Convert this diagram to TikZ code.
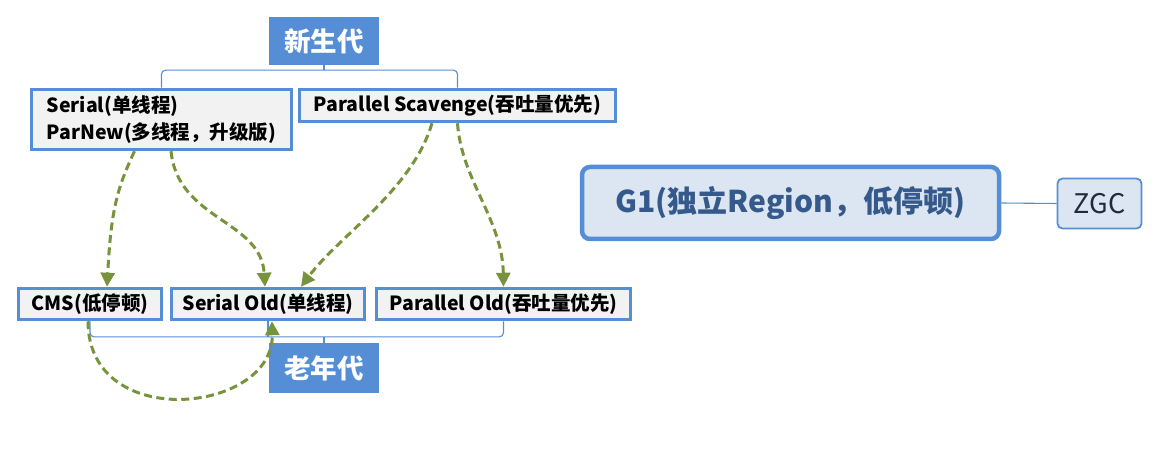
\documentclass[tikz,border=0pt]{standalone}
\usepackage{fontspec}
\setmainfont{Noto Sans CJK SC}
\usetikzlibrary{arrows.meta,calc}
\definecolor{boxblue}{HTML}{558ED5}
\definecolor{boxgray}{HTML}{F2F2F2}
\definecolor{lightblue}{HTML}{DCE6F2}
\definecolor{textblue}{HTML}{35598A}
\definecolor{olive}{HTML}{77933C}
\definecolor{zgctext}{HTML}{1F2A3A}
\tikzset{
  gcbox/.style={draw=boxblue, line width=3.5pt, fill=boxgray, inner sep=0pt,
    font=\fontsize{19.5}{27}\selectfont\bfseries, text=black},
  genbox/.style={fill=boxblue, inner sep=0pt, minimum width=110pt,
    font=\fontsize{26.5}{30}\selectfont\bfseries, text=white},
  bracket/.style={draw=boxblue, line width=1.1pt, rounded corners=4pt},
  flow/.style={draw=olive, line width=3pt, dash pattern=on 8pt off 4.5pt,
    -{Triangle[length=14pt,width=14pt]}},
}
\begin{document}
\begin{tikzpicture}[x=1pt,y=-1pt]
\useasboundingbox (0,0) rectangle (1160,449);
% generations
\node[genbox, minimum height=48pt] (young) at (324,41) {新生代};
\node[genbox, minimum height=50pt] (old) at (324,368) {老年代};
% young collectors
\node[gcbox, minimum width=260pt, minimum height=60pt, align=left] (serial) at (161.5,119.5)
  {Serial(单线程)\\ParNew(多线程，升级版)};
\node[gcbox, minimum width=316pt, minimum height=32pt] (ps) at (457.5,105.5)
  {Parallel Scavenge(吞吐量优先)};
% old collectors
\node[gcbox, minimum width=143pt, minimum height=31pt] (cms) at (90,304) {CMS(低停顿)};
\node[gcbox, minimum width=193pt, minimum height=31pt] (so) at (268,304) {Serial Old(单线程)};
\node[gcbox, minimum width=254pt, minimum height=31pt] (po) at (503.5,304) {Parallel Old(吞吐量优先)};
% G1 / ZGC
\node[draw=boxblue, line width=4.5pt, fill=lightblue, rounded corners=8pt,
  minimum width=417pt, minimum height=72pt, inner sep=0pt,
  font=\fontsize{30}{34}\selectfont\bfseries, text=textblue] (g1) at (790.5,203) {G1(独立Region，低停顿)};
\node[draw=boxblue, line width=1.8pt, fill=lightblue, rounded corners=5pt,
  minimum width=84pt, minimum height=50pt, inner sep=0pt,
  font=\fontsize{27}{30}\selectfont, text=zgctext] (zgc) at (1099.5,203.5) {ZGC};
\draw[draw=boxblue, line width=1.1pt] (g1.east) -- (zgc.west);
% brackets
\coordinate (ytop) at ($(young.south)+(0,5)$);
\draw[bracket] (serial.north) |- (ytop) -| (ps.north);
\draw[bracket] (young.south) -- (ytop);
\coordinate (obot) at ($(old.north)+(0,-6)$);
\draw[bracket] (cms.south) |- (obot) -| (po.south);
\draw[bracket] (so.south) -- (so.south |- obot);
\draw[bracket] (old.north) -- (obot);
% flows
\draw[flow] ([xshift=-27pt]serial.south) .. controls +(-18,38) and +(4,-75) .. ([xshift=17pt]cms.north);
\draw[flow] ([xshift=9.5pt]serial.south) .. controls +(7,69) and +(-4,-67) .. ([xshift=-3pt]so.north);
\draw[flow] ([xshift=-25.5pt]ps.south) .. controls +(-20,67) and +(39,-52) .. ([xshift=33pt]so.north);
\draw[flow] (ps.south) .. controls +(4,57) and +(-1,-67) .. (po.north);
\draw[flow] ([xshift=-2pt]cms.south) .. controls +(0,112) and +(2,92) .. ([xshift=4pt]so.south);
\end{tikzpicture}
\end{document}
